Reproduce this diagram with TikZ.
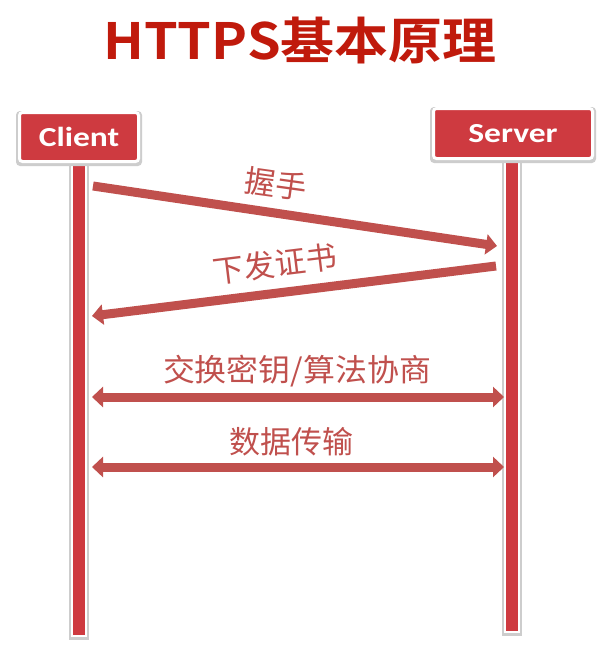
\documentclass[tikz,border=0pt]{standalone}
\usepackage{fontspec}
\setsansfont{Carlito}
\newfontfamily\cjk{Noto Sans CJK SC}
\newfontfamily\cjkb{Noto Sans CJK SC Bold}
\usetikzlibrary{arrows.meta}
\definecolor{boxred}{HTML}{CE3A40}
\definecolor{arrred}{HTML}{C0504D}
\definecolor{titlered}{HTML}{C01A0C}
\definecolor{shadowgray}{HTML}{CDCDCD}
\begin{document}
\begin{tikzpicture}[x=1pt,y=-1pt,
  actor/.style={fill=boxred,draw=white,line width=3pt,rounded corners=3pt,text=white,
    font=\sffamily\bfseries\fontsize{27.5}{27.5}\selectfont,inner sep=0pt,anchor=center},
  lifeline/.style={fill=boxred,draw=white,line width=2pt},
  msg/.style={draw=arrred,line width=9pt,-{Triangle[length=11pt,width=20pt]}},
  dmsg/.style={draw=arrred,line width=9pt,{Triangle[length=11pt,width=20pt]}-{Triangle[length=11pt,width=20pt]}},
  lbl/.style={text=arrred,font=\cjk\fontsize{31}{31}\selectfont,inner sep=0pt}]
\useasboundingbox (0,0) rectangle (600,653);
\fill[white] (0,0) rectangle (600,653);
% title
\node[text=titlered,font=\cjkb\fontsize{50}{50}\selectfont,inner sep=0pt,xscale=1.08] (title) at (300,40) {HTTPS基本原理};
% lifelines (shadow then body)
\fill[shadowgray] (69,160) rectangle (89,640);
\draw[lifeline] (72,158) rectangle (86,636);
\fill[shadowgray] (502,157) rectangle (522,636);
\draw[lifeline] (505,155) rectangle (519,632);
% actor boxes
\fill[shadowgray,rounded corners=4pt] (16,111) rectangle (142,166);
\node[actor,minimum width=119pt,minimum height=49pt] (client) at (79,137) {\scalebox{1.22}[1]{Client}};
\fill[shadowgray,rounded corners=4pt] (430,107) rectangle (596,163);
\node[actor,minimum width=159pt,minimum height=50pt] (server) at (513,133.5) {\scalebox{1.22}[1]{Server}};
% anchor coordinates
\coordinate (c1) at (93,186);
\coordinate (s1) at (497,246);
\coordinate (s2) at (496,266);
\coordinate (c2) at (92,316);
\coordinate (c3) at (92,397);
\coordinate (s3) at (504,397);
\coordinate (c4) at (92,467);
\coordinate (s4) at (504,467);
% messages
\draw[msg] (c1) -- (s1);
\node[lbl,rotate=-8] (l1) at (276,184) {握手};
\draw[msg] (s2) -- (c2);
\node[lbl,rotate=7] (l2) at (275,264) {下发证书};
\draw[dmsg] (c3) -- (s3);
\node[lbl,xscale=1.03] (l3) at (297,371) {交换密钥/算法协商};
\draw[dmsg] (c4) -- (s4);
\node[lbl] (l4) at (291,442) {数据传输};
\end{tikzpicture}
\end{document}
